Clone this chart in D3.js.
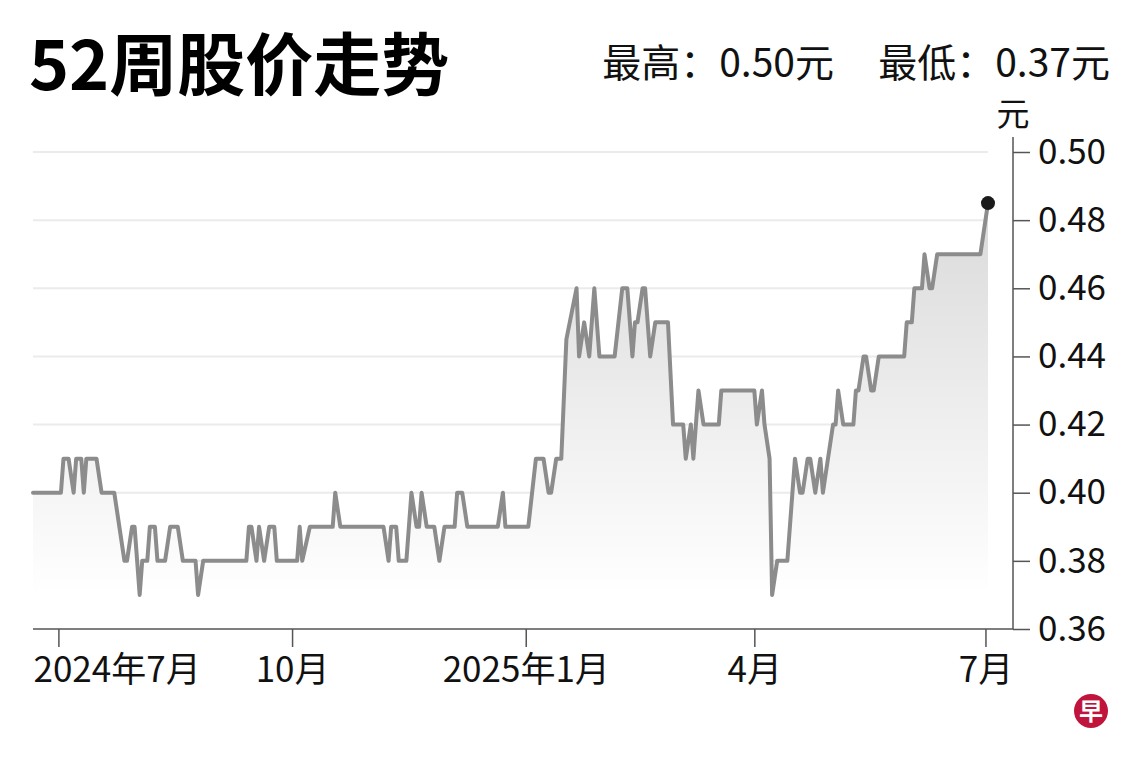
<!DOCTYPE html>
<html>
<head>
<meta charset="utf-8">
<script src="https://cdn.jsdelivr.net/npm/d3@7"></script>
<style>
  body { margin: 0; background: #fff; }
  svg { display: block; font-family: "Noto Sans CJK SC", "Noto Sans", sans-serif; }
</style>
</head>
<body>
<script>
// price vertices (date, closing price in 元)
const dates = [
  "2024-06-21","2024-07-02","2024-07-03","2024-07-05","2024-07-07","2024-07-08","2024-07-10","2024-07-11",
  "2024-07-12","2024-07-16","2024-07-18","2024-07-23","2024-07-27","2024-07-28","2024-07-30","2024-07-31",
  "2024-08-02","2024-08-03","2024-08-05","2024-08-06","2024-08-08","2024-08-09","2024-08-12","2024-08-14",
  "2024-08-17","2024-08-19","2024-08-24","2024-08-25","2024-08-27","2024-09-13","2024-09-14","2024-09-15",
  "2024-09-17","2024-09-18","2024-09-20","2024-09-22","2024-09-24","2024-09-25","2024-10-03","2024-10-04",
  "2024-10-05","2024-10-08","2024-10-17","2024-10-18","2024-10-20","2024-11-06","2024-11-08","2024-11-09",
  "2024-11-11","2024-11-12","2024-11-15","2024-11-17","2024-11-19","2024-11-20","2024-11-21","2024-11-23",
  "2024-11-26","2024-11-28","2024-11-30","2024-12-04","2024-12-05","2024-12-07","2024-12-09","2024-12-21",
  "2024-12-23","2024-12-24","2025-01-02","2025-01-05","2025-01-08","2025-01-10","2025-01-11","2025-01-13",
  "2025-01-15","2025-01-17","2025-01-21","2025-01-22","2025-01-24","2025-01-26","2025-01-28","2025-01-30",
  "2025-02-05","2025-02-08","2025-02-10","2025-02-12","2025-02-13","2025-02-14","2025-02-16","2025-02-17",
  "2025-02-19","2025-02-21","2025-02-26","2025-02-28","2025-03-04","2025-03-05","2025-03-07","2025-03-08",
  "2025-03-10","2025-03-12","2025-03-18","2025-03-19","2025-04-01","2025-04-02","2025-04-04","2025-04-05",
  "2025-04-07","2025-04-08","2025-04-10","2025-04-14","2025-04-17","2025-04-19","2025-04-20","2025-04-22",
  "2025-04-23","2025-04-25","2025-04-27","2025-04-28","2025-05-02","2025-05-03","2025-05-04","2025-05-06",
  "2025-05-10","2025-05-11","2025-05-12","2025-05-14","2025-05-15","2025-05-17","2025-05-18","2025-05-20",
  "2025-05-30","2025-05-31","2025-06-02","2025-06-03","2025-06-06","2025-06-07","2025-06-09","2025-06-10",
  "2025-06-12","2025-06-29","2025-07-02"
];
const prices = [
  0.40,0.40,0.41,0.41,0.40,0.41,0.41,0.40,
  0.41,0.41,0.40,0.40,0.38,0.38,0.39,0.39,
  0.37,0.38,0.38,0.39,0.39,0.38,0.38,0.39,
  0.39,0.38,0.38,0.37,0.38,0.38,0.39,0.39,
  0.38,0.39,0.38,0.39,0.39,0.38,0.38,0.39,
  0.38,0.39,0.39,0.40,0.39,0.39,0.38,0.39,
  0.39,0.38,0.38,0.40,0.39,0.39,0.40,0.39,
  0.39,0.38,0.39,0.39,0.40,0.40,0.39,0.39,
  0.40,0.39,0.39,0.41,0.41,0.40,0.40,0.41,
  0.41,0.445,0.46,0.44,0.45,0.44,0.46,0.44,
  0.44,0.46,0.46,0.44,0.45,0.45,0.46,0.46,
  0.44,0.45,0.45,0.42,0.42,0.41,0.42,0.41,
  0.43,0.42,0.42,0.43,0.43,0.42,0.43,0.42,
  0.41,0.37,0.38,0.38,0.41,0.40,0.40,0.41,
  0.41,0.40,0.41,0.40,0.42,0.42,0.43,0.42,
  0.42,0.43,0.43,0.44,0.44,0.43,0.43,0.44,
  0.44,0.45,0.45,0.46,0.46,0.47,0.46,0.46,
  0.47,0.47,0.485
];
const yTicks = [0.36, 0.38, 0.40, 0.42, 0.44, 0.46, 0.48, 0.50];
const xTickDates = ["2024-07-01", "2024-10-01", "2025-01-01", "2025-04-01", "2025-07-01"];
const xTickLabels = ["2024年7月", "10月", "2025年1月", "4月", "7月"];
const title = "52周股价走势";
const highText = "最高：0.50元";
const lowText = "最低：0.37元";
const unit = "元";

const width = 1140;
const height = 760;
const parse = d3.timeParse("%Y-%m-%d");
const data = dates.map((d, i) => ({ date: parse(d), price: prices[i] }));

const plot = { left: 33, right: 988, top: 152, bottom: 629 };
const axisX = 1013;

const x = d3.scaleTime()
  .domain(d3.extent(data, d => d.date))
  .range([plot.left, plot.right]);
const y = d3.scaleLinear()
  .domain([0.36, 0.50])
  .range([plot.bottom, plot.top]);

const svg = d3.select("body").append("svg")
  .attr("width", width)
  .attr("height", height);

const defs = svg.append("defs");
const grad = defs.append("linearGradient")
  .attr("id", "fade")
  .attr("gradientUnits", "userSpaceOnUse")
  .attr("x1", 0).attr("x2", 0)
  .attr("y1", y(0.485)).attr("y2", y(0.37));
grad.append("stop").attr("offset", "0%").attr("stop-color", "#dadada");
grad.append("stop").attr("offset", "100%").attr("stop-color", "#ffffff");

// gridlines
svg.append("g")
  .selectAll("line")
  .data(yTicks.filter(t => t > 0.36))
  .enter()
  .append("line")
  .attr("x1", plot.left)
  .attr("x2", plot.right)
  .attr("y1", d => y(d))
  .attr("y2", d => y(d))
  .attr("stroke", "#ebebeb")
  .attr("stroke-width", 2);

// area + line
const area = d3.area()
  .x(d => x(d.date))
  .y0(y(0.36))
  .y1(d => y(d.price));
svg.append("path")
  .datum(data)
  .attr("d", area)
  .attr("fill", "url(#fade)");

const line = d3.line()
  .x(d => x(d.date))
  .y(d => y(d.price));
svg.append("path")
  .datum(data)
  .attr("d", line)
  .attr("fill", "none")
  .attr("stroke", "#8c8c8c")
  .attr("stroke-width", 4)
  .attr("stroke-linejoin", "round")
  .attr("stroke-linecap", "round");

const last = data[data.length - 1];
svg.append("circle")
  .attr("cx", x(last.date))
  .attr("cy", y(last.price))
  .attr("r", 7)
  .attr("fill", "#1a1a1a");

// x axis
const xAxis = d3.axisBottom(x)
  .tickValues(xTickDates.map(parse))
  .tickFormat((d, i) => xTickLabels[i])
  .tickSize(18)
  .tickSizeOuter(0)
  .tickPadding(10);
const gx = svg.append("g")
  .attr("transform", `translate(0,${plot.bottom})`)
  .call(xAxis);
gx.select(".domain").remove();
gx.selectAll(".tick line").attr("stroke", "#555").attr("stroke-width", 1.5);
gx.selectAll(".tick text")
  .attr("font-size", 35)
  .attr("fill", "#111")
  .attr("font-family", "Noto Sans CJK SC");
// first label sits flush with the left edge
gx.select(".tick text").attr("text-anchor", "start")
  .attr("x", plot.left - x(parse(xTickDates[0])));
svg.append("line")
  .attr("x1", plot.left).attr("x2", axisX)
  .attr("y1", plot.bottom).attr("y2", plot.bottom)
  .attr("stroke", "#555").attr("stroke-width", 1.5);

// y axis on the right
const yAxis = d3.axisRight(y)
  .tickValues(yTicks)
  .tickFormat(d3.format(".2f"))
  .tickSize(17)
  .tickSizeOuter(0)
  .tickPadding(8);
const gy = svg.append("g")
  .attr("transform", `translate(${axisX},0)`)
  .call(yAxis);
gy.select(".domain").remove();
gy.selectAll(".tick line").attr("stroke", "#555").attr("stroke-width", 1.5);
gy.selectAll(".tick text")
  .attr("font-size", 35)
  .attr("fill", "#111")
  .attr("font-family", "Noto Sans CJK SC");
svg.append("line")
  .attr("x1", axisX).attr("x2", axisX)
  .attr("y1", 137).attr("y2", plot.bottom)
  .attr("stroke", "#555").attr("stroke-width", 1.5);

svg.append("text")
  .attr("x", axisX)
  .attr("y", 126)
  .attr("text-anchor", "middle")
  .attr("font-size", 33)
  .attr("fill", "#111")
  .text(unit);

// header
svg.append("text")
  .attr("x", 29)
  .attr("y", 90)
  .attr("font-size", 68)
  .attr("font-weight", 700)
  .attr("fill", "#000")
  .text(title);
svg.append("text")
  .attr("x", 834)
  .attr("y", 77)
  .attr("text-anchor", "end")
  .attr("font-size", 39)
  .attr("fill", "#111")
  .text(highText);
svg.append("text")
  .attr("x", 1110)
  .attr("y", 77)
  .attr("text-anchor", "end")
  .attr("font-size", 39)
  .attr("fill", "#111")
  .text(lowText);

// logo
const logo = svg.append("g").attr("transform", "translate(1091,711)");
logo.append("circle").attr("r", 17).attr("fill", "#c0143c");
logo.append("text")
  .attr("text-anchor", "middle")
  .attr("dy", "0.36em")
  .attr("font-size", 24)
  .attr("font-weight", 700)
  .attr("fill", "#fff")
  .text("早");
</script>
</body>
</html>
